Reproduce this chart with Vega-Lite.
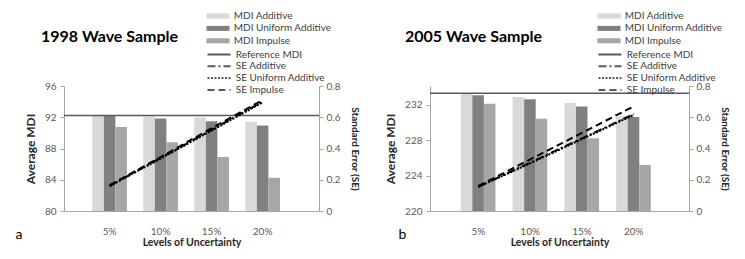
{
  "$schema": "https://vega.github.io/schema/vega-lite/v6.json",
  "padding": {"left": 15, "top": 11, "right": 5, "bottom": 5},
  "spacing": 24,
  "config": {
    "font": "Lato",
    "view": {"stroke": null},
    "axis": {"grid": false, "domainColor": "#a6a6a6", "tickColor": "#a6a6a6", "labelColor": "#595959", "labelFontSize": 10, "labelFont": "Lato", "titleFont": "Lato", "titleColor": "#262626", "titleFontWeight": "bold", "tickSize": 4, "labelOverlap": false},
    "legend": {"labelFont": "Lato", "labelFontSize": 10, "labelColor": "#404040", "padding": 0},
    "title": {"font": "Lato"}
  },
  "datasets": {
    "barsA": [
      {"level": "5%", "series": "MDI Additive", "mdi": 92.2},
      {"level": "5%", "series": "MDI Uniform Additive", "mdi": 92.2},
      {"level": "5%", "series": "MDI Impulse", "mdi": 90.75},
      {"level": "10%", "series": "MDI Additive", "mdi": 92.1},
      {"level": "10%", "series": "MDI Uniform Additive", "mdi": 91.85},
      {"level": "10%", "series": "MDI Impulse", "mdi": 88.8},
      {"level": "15%", "series": "MDI Additive", "mdi": 91.98},
      {"level": "15%", "series": "MDI Uniform Additive", "mdi": 91.5},
      {"level": "15%", "series": "MDI Impulse", "mdi": 86.9},
      {"level": "20%", "series": "MDI Additive", "mdi": 91.43},
      {"level": "20%", "series": "MDI Uniform Additive", "mdi": 90.96},
      {"level": "20%", "series": "MDI Impulse", "mdi": 84.26}
    ],
    "refA": [{"series": "Reference MDI", "ref": 92.24}],
    "seA": [
      {"level": "5%", "series": "SE Additive", "se": 0.16},
      {"level": "10%", "series": "SE Additive", "se": 0.34},
      {"level": "15%", "series": "SE Additive", "se": 0.52},
      {"level": "20%", "series": "SE Additive", "se": 0.7},
      {"level": "5%", "series": "SE Uniform Additive", "se": 0.16},
      {"level": "10%", "series": "SE Uniform Additive", "se": 0.335},
      {"level": "15%", "series": "SE Uniform Additive", "se": 0.515},
      {"level": "20%", "series": "SE Uniform Additive", "se": 0.695},
      {"level": "5%", "series": "SE Impulse", "se": 0.165},
      {"level": "10%", "series": "SE Impulse", "se": 0.345},
      {"level": "15%", "series": "SE Impulse", "se": 0.53},
      {"level": "20%", "series": "SE Impulse", "se": 0.71}
    ],
    "barsB": [
      {"level": "5%", "series": "MDI Additive", "mdi": 233.2},
      {"level": "5%", "series": "MDI Uniform Additive", "mdi": 233.07},
      {"level": "5%", "series": "MDI Impulse", "mdi": 232.1},
      {"level": "10%", "series": "MDI Additive", "mdi": 232.87},
      {"level": "10%", "series": "MDI Uniform Additive", "mdi": 232.6},
      {"level": "10%", "series": "MDI Impulse", "mdi": 230.4},
      {"level": "15%", "series": "MDI Additive", "mdi": 232.19},
      {"level": "15%", "series": "MDI Uniform Additive", "mdi": 231.8},
      {"level": "15%", "series": "MDI Impulse", "mdi": 228.2},
      {"level": "20%", "series": "MDI Additive", "mdi": 230.7},
      {"level": "20%", "series": "MDI Uniform Additive", "mdi": 230.6},
      {"level": "20%", "series": "MDI Impulse", "mdi": 225.2}
    ],
    "refB": [{"series": "Reference MDI", "ref": 233.27}],
    "seB": [
      {"level": "5%", "series": "SE Additive", "se": 0.155},
      {"level": "10%", "series": "SE Additive", "se": 0.31},
      {"level": "15%", "series": "SE Additive", "se": 0.465},
      {"level": "20%", "series": "SE Additive", "se": 0.62},
      {"level": "5%", "series": "SE Uniform Additive", "se": 0.155},
      {"level": "10%", "series": "SE Uniform Additive", "se": 0.305},
      {"level": "15%", "series": "SE Uniform Additive", "se": 0.46},
      {"level": "20%", "series": "SE Uniform Additive", "se": 0.615},
      {"level": "5%", "series": "SE Impulse", "se": 0.16},
      {"level": "10%", "series": "SE Impulse", "se": 0.33},
      {"level": "15%", "series": "SE Impulse", "se": 0.5},
      {"level": "20%", "series": "SE Impulse", "se": 0.67}
    ]
  },
  "hconcat": [
    {
      "title": {"text": "a", "orient": "bottom", "anchor": "start", "frame": "bounds", "fontSize": 14, "fontWeight": "normal", "color": "#000000", "offset": 0, "dy": -20, "dx": -9},
      "vconcat": [
        {
          "width": 255,
          "height": 125,
          "title": {"text": "1998 Wave Sample", "anchor": "start", "frame": "group", "fontSize": 16, "fontWeight": "bold", "color": "#000000", "offset": 0, "dx": -23, "dy": -36},
          "resolve": {"scale": {"y": "independent"}},
          "layer": [
            {
              "layer": [
                {
                  "data": {"name": "barsA"},
                  "mark": {"type": "bar", "clip": true},
                  "encoding": {
                    "x": {"field": "level", "type": "nominal", "sort": ["5%", "10%", "15%", "20%"], "scale": {"paddingInner": 0.32, "paddingOuter": 0.66, "align": 0.42}, "title": "Levels of Uncertainty", "axis": {"labelAngle": 0, "ticks": false, "labelPadding": 15, "titlePadding": 1, "titleFontSize": 10.5}},
                    "xOffset": {"field": "series", "type": "nominal", "sort": ["MDI Additive", "MDI Uniform Additive", "MDI Impulse"], "scale": {"paddingInner": 0, "paddingOuter": 0}},
                    "y": {"field": "mdi", "type": "quantitative", "scale": {"domain": [80, 96], "nice": false, "zero": false}, "title": "Average MDI", "axis": {"values": [80, 84, 88, 92, 96], "labelOverlap": false, "labelPadding": 4, "titlePadding": 7, "titleFontSize": 12}},
                    "color": {"field": "series", "type": "nominal", "scale": {"domain": ["MDI Additive", "MDI Uniform Additive", "MDI Impulse"], "range": ["#d9d9d9", "#808080", "#a6a6a6"]}, "legend": {"orient": "none", "direction": "vertical", "legendX": 149, "legendY": -75, "title": null, "symbolType": "M-2.5,-0.55H2.5V0.55H-2.5Z", "symbolSize": 85, "symbolStrokeWidth": 0, "labelOffset": 10.8, "rowPadding": 2.4}}
                  }
                },
                {
                  "data": {"name": "refA"},
                  "mark": {"type": "rule", "color": "#595959", "strokeWidth": 1.5},
                  "encoding": {
                    "y": {"field": "ref", "type": "quantitative", "axis": {"values": [80, 84, 88, 92, 96], "labelOverlap": false}},
                    "strokeDash": {"field": "series", "type": "nominal"}
                  }
                }
              ]
            },
            {
              "data": {"name": "seA"},
              "mark": {"type": "line", "color": "#000000", "strokeWidth": 2},
              "encoding": {
                "x": {"field": "level", "type": "nominal", "sort": ["5%", "10%", "15%", "20%"]},
                "y": {"field": "se", "type": "quantitative", "scale": {"domain": [0, 0.8], "nice": false}, "title": "Standard Error (SE)", "axis": {"orient": "right", "values": [0, 0.2, 0.4, 0.6, 0.8], "format": ".1~f", "labelPadding": 3, "titlePadding": 10, "titleFontSize": 10}},
                "strokeDash": {"field": "series", "type": "nominal", "scale": {"domain": ["Reference MDI", "SE Additive", "SE Uniform Additive", "SE Impulse"], "range": [[1, 0], [8, 3, 2, 3], [2, 1.5], [7, 4]]}, "legend": {"orient": "none", "direction": "vertical", "legendX": 149, "legendY": -37.5, "title": null, "symbolType": "M-2.5,0H2.5", "symbolSize": 85, "symbolStrokeColor": "#000000", "symbolStrokeWidth": 2, "labelOffset": 10.8, "rowPadding": 0.8}}
              }
            }
          ]
        }
      ]
    },
    {
      "title": {"text": "b", "orient": "bottom", "anchor": "start", "frame": "bounds", "fontSize": 14, "fontWeight": "normal", "color": "#000000", "offset": 0, "dy": -20, "dx": 14},
      "vconcat": [
        {
          "width": 259,
          "height": 125,
          "title": {"text": "2005 Wave Sample", "anchor": "start", "frame": "group", "fontSize": 16, "fontWeight": "bold", "color": "#000000", "offset": 0, "dx": -25, "dy": -36},
          "resolve": {"scale": {"y": "independent"}},
          "layer": [
            {
              "layer": [
                {
                  "data": {"name": "barsB"},
                  "mark": {"type": "bar", "clip": true},
                  "encoding": {
                    "x": {"field": "level", "type": "nominal", "sort": ["5%", "10%", "15%", "20%"], "scale": {"paddingInner": 0.32, "paddingOuter": 0.66, "align": 0.45}, "title": "Levels of Uncertainty", "axis": {"labelAngle": 0, "ticks": false, "labelPadding": 15, "titlePadding": 1, "titleFontSize": 10.5}},
                    "xOffset": {"field": "series", "type": "nominal", "sort": ["MDI Additive", "MDI Uniform Additive", "MDI Impulse"], "scale": {"paddingInner": 0, "paddingOuter": 0}},
                    "y": {"field": "mdi", "type": "quantitative", "scale": {"domain": [220, 234.1], "nice": false, "zero": false}, "title": "Average MDI", "axis": {"values": [220, 224, 228, 232], "labelOverlap": false, "labelPadding": 4, "titlePadding": 7, "titleFontSize": 12}},
                    "color": {"field": "series", "type": "nominal", "scale": {"domain": ["MDI Additive", "MDI Uniform Additive", "MDI Impulse"], "range": ["#d9d9d9", "#808080", "#a6a6a6"]}, "legend": {"orient": "none", "direction": "vertical", "legendX": 174, "legendY": -75, "title": null, "symbolType": "M-2.5,-0.55H2.5V0.55H-2.5Z", "symbolSize": 85, "symbolStrokeWidth": 0, "labelOffset": 10.8, "rowPadding": 2.4}}
                  }
                },
                {
                  "data": {"name": "refB"},
                  "mark": {"type": "rule", "color": "#595959", "strokeWidth": 1.5},
                  "encoding": {
                    "y": {"field": "ref", "type": "quantitative", "axis": {"values": [220, 224, 228, 232], "labelOverlap": false}},
                    "strokeDash": {"field": "series", "type": "nominal"}
                  }
                }
              ]
            },
            {
              "data": {"name": "seB"},
              "mark": {"type": "line", "color": "#000000", "strokeWidth": 2},
              "encoding": {
                "x": {"field": "level", "type": "nominal", "sort": ["5%", "10%", "15%", "20%"]},
                "y": {"field": "se", "type": "quantitative", "scale": {"domain": [0, 0.8], "nice": false}, "title": "Standard Error (SE)", "axis": {"orient": "right", "values": [0, 0.2, 0.4, 0.6, 0.8], "format": ".1~f", "labelPadding": 3, "titlePadding": 10, "titleFontSize": 10}},
                "strokeDash": {"field": "series", "type": "nominal", "scale": {"domain": ["Reference MDI", "SE Additive", "SE Uniform Additive", "SE Impulse"], "range": [[1, 0], [8, 3, 2, 3], [2, 1.5], [7, 4]]}, "legend": {"orient": "none", "direction": "vertical", "legendX": 174, "legendY": -37.5, "title": null, "symbolType": "M-2.5,0H2.5", "symbolSize": 85, "symbolStrokeColor": "#000000", "symbolStrokeWidth": 2, "labelOffset": 10.8, "rowPadding": 0.8}}
              }
            }
          ]
        }
      ]
    }
  ],
  "resolve": {"scale": {"color": "independent", "strokeDash": "independent", "y": "independent", "x": "independent"}, "legend": {"color": "independent", "strokeDash": "independent"}}
}
